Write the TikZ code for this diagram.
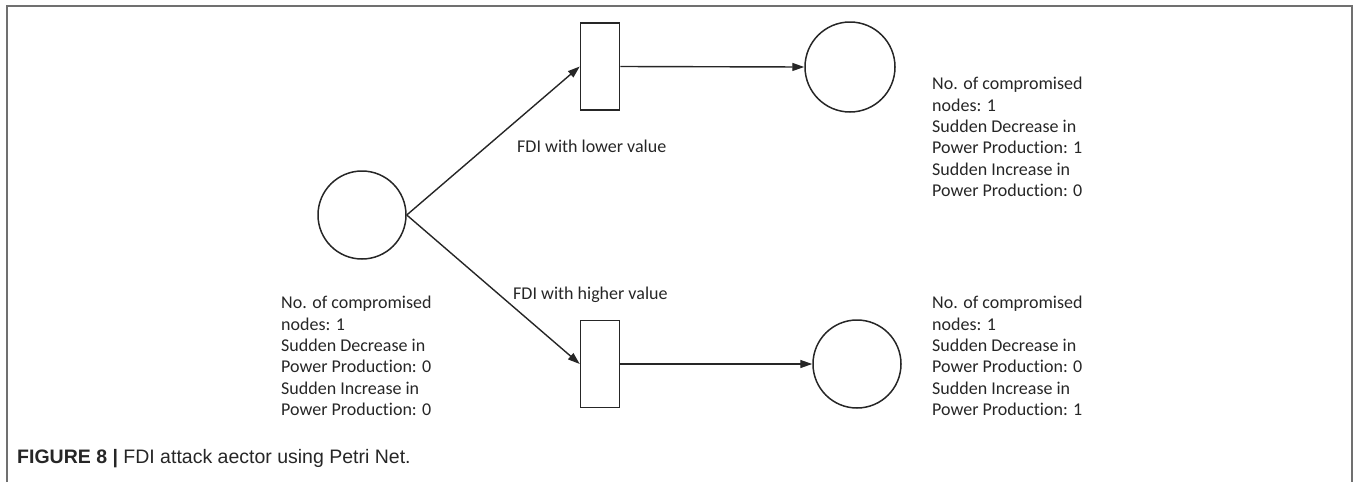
\documentclass[tikz,border=0pt]{standalone}
\usepackage{fontspec}
\setmainfont{Carlito}[Ligatures=NoCommon]
\newfontfamily\capfont{Liberation Sans}
\usetikzlibrary{arrows.meta}
\definecolor{ink}{HTML}{262626}
\definecolor{framegray}{HTML}{707070}
\begin{document}
\begin{tikzpicture}[x=1pt,y=-1pt,
  place/.style={circle,draw=ink,line width=1.5pt,inner sep=0pt,minimum size=88pt},
  transition/.style={rectangle,draw=ink,line width=1.5pt,inner sep=0pt,minimum width=39pt,minimum height=87pt},
  arc/.style={draw=ink,line width=1.4pt,-{Triangle[length=12pt,width=8pt]}},
  lbl/.style={inner sep=0pt,text=ink,font=\fontsize{18}{21.4}\selectfont},
  marking/.style={lbl,align=left,anchor=north west}]
\useasboundingbox (0,0) rectangle (1354,482);
% open frame around the figure
\draw[framegray,line width=1.5pt] (7,482) -- (7,6) -- (1352,6) -- (1352,482);

% places and transitions
\node[place] (p0) at (362,215) {};
\node[transition] (t1) at (600,66.5) {};
\node[place,minimum size=90pt] (p1) at (850,67) {};
\node[transition] (t2) at (600,364) {};
\node[place] (p2) at (857,364) {};

% arcs
\draw[arc] (p0.east) -- (t1.west);
\draw[arc] (p0.east) -- (t2.west);
\draw[arc] (t1.east) -- (p1.west);
\draw[arc] (t2.east) -- (p2.west);

% arc labels
\node[lbl,anchor=west] (l1) at (517,146) {FDI with lower value};
\node[lbl,anchor=west] (l2) at (513,295) {FDI with higher value};

% markings
\node[marking] (m0) at (281,296) {No. of compromised\\nodes: 1\\Sudden Decrease in\\Power Production: 0\\Sudden Increase in\\Power Production: 0};
\node[marking] (m1) at (932,77) {No. of compromised\\nodes: 1\\Sudden Decrease in\\Power Production: 1\\Sudden Increase in\\Power Production: 0};
\node[marking] (m2) at (932,296) {No. of compromised\\nodes: 1\\Sudden Decrease in\\Power Production: 0\\Sudden Increase in\\Power Production: 1};

% caption
\node[inner sep=0pt,anchor=west,text=ink,font=\capfont\fontsize{19.5}{22}\selectfont] (cap) at (17,459)
  {\textbf{FIGURE 8 |} FDI attack aector using Petri Net.};
\end{tikzpicture}
\end{document}
